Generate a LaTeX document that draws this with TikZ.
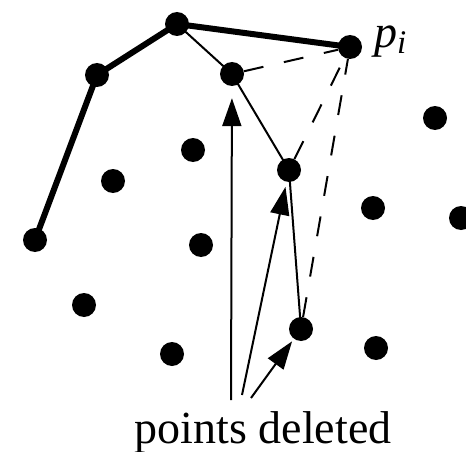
\documentclass[tikz,border=0pt]{standalone}
\usepackage{fontspec}
\setmainfont{Liberation Serif}
\usetikzlibrary{arrows.meta}
\begin{document}
\begin{tikzpicture}[x=1pt,y=-1pt,
  dot/.style={circle,fill=black,inner sep=0pt,minimum size=24pt},
  hull/.style={line width=6pt},
  chain/.style={line width=2pt},
  dashline/.style={line width=2pt,dash pattern=on 20pt off 21pt},
  ptr/.style={line width=2pt,-{Triangle[length=28pt,width=19pt]}}]
\useasboundingbox (0,0) rectangle (466,452);
\node[dot] (a) at (35,240) {};
\node[dot] (b) at (97,75) {};
\node[dot] (c) at (177,24) {};
\node[dot] (d) at (350,47) {};
\node[dot] (e) at (232,74) {};
\node[dot] (f) at (289,170) {};
\node[dot] (g) at (301,329) {};
\node[dot] (o1) at (435,118) {};
\node[dot] (o2) at (193,150) {};
\node[dot] (o3) at (113,181) {};
\node[dot] (o4) at (373,208) {};
\node[dot] (o5) at (461,218) {};
\node[dot] (o6) at (201,245) {};
\node[dot] (o7) at (84,305) {};
\node[dot] (o8) at (172,354) {};
\node[dot] (o9) at (376,348) {};
\draw[hull,line join=round] (a.center) -- (b.center) -- (c.center) -- (d.center);
\draw[chain] (c.center) -- (e.center) -- (f.center) -- (g.center);
\draw[dashline] (e) -- (d);
\draw[dashline] (f) -- (d);
\draw[dashline] (g) -- (d);
\node[anchor=base west,inner sep=0pt,font=\fontsize{46}{50}\selectfont\itshape] (pi) at (374,48) {p\raisebox{-6pt}{\fontsize{33}{36}\selectfont i}};
\node[anchor=base,inner sep=0pt,font=\fontsize{46}{50}\selectfont] (lab) at (263,443) {points deleted};
\coordinate (t1) at (231,400);
\coordinate (t2) at (242,395);
\coordinate (t3) at (251,398);
\draw[ptr,shorten >=12pt] (t1) -- (e);
\draw[ptr,shorten >=5pt] (t2) -- (f);
\draw[ptr,shorten >=3pt] (t3) -- (g);
\end{tikzpicture}
\end{document}
